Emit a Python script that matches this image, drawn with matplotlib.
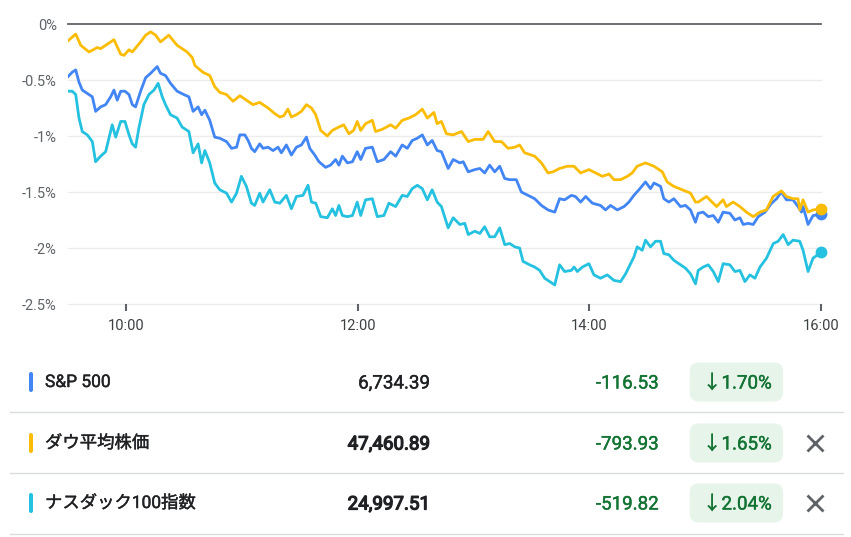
import matplotlib.pyplot as plt
import matplotlib.patheffects as pe
from matplotlib.patches import FancyBboxPatch

plt.rcParams['font.family'] = ['Roboto', 'Noto Sans CJK JP', 'DejaVu Sans']

# minutes after 9:30 and % change
dow_t = [0, 4.0, 6.6, 10.9, 15.2, 16.9, 22.1, 23.8, 27.3, 29.0,
         31.6, 33.3, 37.6, 40.2, 42.8, 45.4, 47.9, 52.2, 56.5, 61.7,
         64.4, 65.7, 69.8, 73.4, 76.0, 78.6, 82.1, 85.5, 89.0, 92.4,
         95.8, 99.3, 103.6, 107.1, 109.7, 111.7, 113.9, 115.7, 118.3, 120.9,
         123.5, 126.1, 128.3, 130.9, 134.3, 136.9, 140.3, 142.8, 145.5, 147.9,
         149.8, 151.6, 154.1, 157.6, 159.3, 162.8, 167.1, 169.7, 173.1, 176.5,
         180.0, 183.5, 186.1, 189.5, 191.2, 193.4, 196.0, 199.5, 203.8, 207.3,
         210.7, 215.0, 217.6, 221.0, 224.5, 227.9, 231.4, 233.9, 236.5, 241.7,
         245.2, 248.6, 251.2, 254.6, 258.6, 262.1, 265.5, 269.8, 273.3, 276.7,
         280.2, 282.8, 286.2, 289.7, 292.2, 294.8, 299.1, 303.5, 307.8, 310.3,
         313.8, 318.1, 322.4, 325.0, 326.4, 330.7, 335.9, 339.3, 341.0, 344.5,
         348.0, 351.4, 354.9, 358.3, 361.7, 365.2, 369.5, 372.1, 375.5, 378.1,
         379.0, 380.7, 383.3, 385.9, 390]
dow_v = [-0.15, -0.09, -0.19, -0.25, -0.21, -0.22, -0.16, -0.14, -0.27, -0.28,
         -0.23, -0.25, -0.16, -0.10, -0.07, -0.10, -0.16, -0.10, -0.19, -0.25,
         -0.30, -0.37, -0.43, -0.46, -0.56, -0.61, -0.63, -0.69, -0.64, -0.68,
         -0.72, -0.70, -0.75, -0.80, -0.83, -0.82, -0.76, -0.83, -0.81, -0.78,
         -0.72, -0.75, -0.81, -0.95, -1.00, -0.95, -0.92, -0.90, -0.98, -0.95,
         -0.87, -0.95, -0.89, -0.86, -0.96, -0.94, -0.90, -0.93, -0.86, -0.84,
         -0.81, -0.76, -0.84, -0.79, -0.89, -0.87, -0.98, -0.99, -0.96, -1.05,
         -1.03, -1.03, -0.96, -1.05, -1.05, -1.11, -1.10, -1.08, -1.15, -1.18,
         -1.24, -1.33, -1.32, -1.29, -1.27, -1.27, -1.33, -1.30, -1.33, -1.36,
         -1.34, -1.39, -1.39, -1.36, -1.33, -1.27, -1.24, -1.27, -1.32, -1.41,
         -1.45, -1.48, -1.51, -1.59, -1.59, -1.54, -1.63, -1.57, -1.63, -1.59,
         -1.63, -1.68, -1.72, -1.68, -1.66, -1.54, -1.49, -1.54, -1.56, -1.56,
         -1.66, -1.57, -1.68, -1.66, -1.65]

spx_t = [0, 2.2, 4.0, 5.7, 7.4, 10.0, 12.6, 14.3, 16.9, 19.5,
         22.1, 23.8, 25.5, 27.3, 29.5, 31.6, 33.3, 35.0, 37.6, 40.2,
         42.8, 46.2, 47.9, 50.5, 53.1, 56.5, 60.0, 62.6, 64.8, 67.4,
         69.2, 70.9, 73.4, 76.0, 78.6, 82.1, 84.7, 87.3, 89.0, 91.6,
         93.3, 95.0, 96.7, 99.3, 101.0, 103.6, 106.2, 108.8, 110.5, 113.1,
         115.7, 118.3, 120.9, 123.5, 125.2, 127.8, 130.0, 133.4, 136.0, 138.6,
         140.3, 142.1, 144.7, 147.3, 149.8, 151.6, 154.1, 157.6, 160.2, 163.6,
         167.1, 169.7, 173.1, 175.7, 178.3, 180.9, 183.5, 186.1, 188.6, 191.2,
         193.4, 196.9, 199.5, 202.9, 204.7, 207.3, 210.7, 213.3, 215.8, 218.4,
         221.0, 223.6, 226.2, 228.8, 232.2, 234.8, 238.3, 241.7, 245.2, 248.6,
         252.1, 254.6, 257.2, 260.7, 262.8, 265.5, 268.1, 271.6, 275.8, 278.4,
         281.0, 284.5, 288.0, 290.5, 293.1, 295.7, 299.1, 301.7, 303.5, 306.9,
         308.6, 311.2, 313.8, 317.2, 319.8, 322.4, 325.0, 326.4, 329.0, 331.6,
         334.2, 336.8, 339.3, 342.8, 345.4, 348.0, 349.7, 352.3, 354.9, 357.5,
         361.0, 364.4, 367.0, 369.5, 372.1, 375.5, 378.1, 379.9, 380.7, 383.3,
         385.9, 390]
spx_v = [-0.47, -0.43, -0.41, -0.52, -0.59, -0.62, -0.65, -0.78, -0.74, -0.72,
         -0.65, -0.59, -0.68, -0.60, -0.60, -0.63, -0.72, -0.74, -0.60, -0.48,
         -0.44, -0.38, -0.44, -0.46, -0.53, -0.60, -0.63, -0.65, -0.78, -0.74,
         -0.81, -0.77, -0.86, -1.01, -1.02, -1.05, -1.11, -1.10, -0.99, -0.99,
         -1.04, -1.11, -1.14, -1.07, -1.11, -1.10, -1.13, -1.10, -1.15, -1.08,
         -1.17, -1.10, -1.08, -1.01, -1.11, -1.17, -1.23, -1.28, -1.26, -1.21,
         -1.26, -1.18, -1.24, -1.23, -1.14, -1.21, -1.11, -1.10, -1.23, -1.21,
         -1.14, -1.18, -1.08, -1.11, -1.04, -1.02, -0.99, -1.08, -1.04, -1.13,
         -1.14, -1.29, -1.21, -1.24, -1.23, -1.32, -1.30, -1.29, -1.33, -1.26,
         -1.32, -1.27, -1.38, -1.39, -1.39, -1.50, -1.53, -1.56, -1.62, -1.66,
         -1.68, -1.56, -1.57, -1.53, -1.54, -1.59, -1.54, -1.60, -1.62, -1.66,
         -1.62, -1.66, -1.63, -1.59, -1.53, -1.48, -1.41, -1.47, -1.42, -1.45,
         -1.56, -1.59, -1.56, -1.63, -1.62, -1.66, -1.77, -1.69, -1.68, -1.72,
         -1.71, -1.77, -1.68, -1.69, -1.75, -1.73, -1.79, -1.78, -1.79, -1.72,
         -1.68, -1.60, -1.56, -1.50, -1.57, -1.57, -1.63, -1.68, -1.63, -1.79,
         -1.71, -1.70]

ndx_t = [0, 2.2, 4.0, 5.7, 7.4, 10.0, 12.6, 14.3, 16.9, 19.5,
         21.2, 22.9, 24.7, 27.3, 29.5, 31.6, 33.3, 35.0, 36.7, 39.3,
         41.9, 44.5, 46.7, 48.8, 50.5, 53.1, 56.5, 59.1, 62.6, 64.8,
         67.4, 69.2, 70.9, 73.4, 76.0, 78.6, 82.1, 84.7, 87.3, 89.8,
         92.4, 95.0, 96.7, 99.3, 101.0, 104.5, 107.1, 109.7, 113.1, 115.7,
         118.3, 121.7, 124.3, 126.1, 128.3, 130.9, 134.3, 136.9, 138.6, 140.3,
         142.1, 144.7, 147.3, 149.8, 151.6, 154.1, 157.6, 160.2, 163.6, 166.2,
         169.7, 173.1, 175.7, 178.3, 180.9, 183.5, 186.1, 188.6, 191.2, 193.4,
         196.9, 199.5, 202.9, 205.5, 207.3, 210.7, 213.3, 215.8, 218.4, 221.0,
         223.6, 226.2, 228.8, 231.4, 233.9, 235.7, 239.1, 241.7, 244.3, 246.9,
         249.5, 252.1, 254.6, 257.2, 260.7, 262.1, 263.8, 266.4, 269.8, 272.4,
         275.8, 279.3, 282.8, 286.2, 288.8, 291.4, 293.1, 294.8, 297.4, 299.1,
         301.7, 304.3, 306.9, 308.6, 311.2, 313.8, 317.2, 319.8, 322.4, 325.0,
         326.4, 329.0, 331.6, 334.2, 336.8, 339.3, 342.8, 345.4, 348.0, 350.6,
         353.2, 355.8, 358.4, 361.8, 365.3, 367.8, 370.4, 373.0, 375.5, 379.0,
         380.7, 383.3, 385.9, 390]
ndx_v = [-0.60, -0.60, -0.63, -0.84, -0.96, -0.99, -1.05, -1.23, -1.18, -1.14,
         -1.02, -0.90, -1.01, -0.87, -0.87, -0.99, -1.07, -1.10, -0.93, -0.72,
         -0.63, -0.59, -0.53, -0.65, -0.72, -0.81, -0.84, -0.92, -0.96, -1.15,
         -1.07, -1.24, -1.13, -1.24, -1.42, -1.48, -1.51, -1.59, -1.51, -1.36,
         -1.45, -1.60, -1.62, -1.51, -1.59, -1.48, -1.59, -1.60, -1.53, -1.65,
         -1.54, -1.53, -1.44, -1.59, -1.60, -1.72, -1.73, -1.65, -1.71, -1.62,
         -1.71, -1.72, -1.71, -1.59, -1.71, -1.57, -1.56, -1.72, -1.71, -1.60,
         -1.63, -1.53, -1.54, -1.47, -1.44, -1.47, -1.57, -1.48, -1.59, -1.63,
         -1.82, -1.73, -1.79, -1.78, -1.88, -1.85, -1.87, -1.81, -1.90, -1.90,
         -1.82, -1.97, -1.96, -1.99, -2.00, -2.12, -2.15, -2.17, -2.20, -2.27,
         -2.30, -2.33, -2.15, -2.21, -2.20, -2.17, -2.21, -2.17, -2.14, -2.24,
         -2.27, -2.24, -2.29, -2.30, -2.23, -2.14, -2.08, -1.99, -2.02, -1.93,
         -1.99, -1.94, -1.94, -2.05, -2.06, -2.11, -2.15, -2.18, -2.23, -2.32,
         -2.20, -2.17, -2.15, -2.21, -2.30, -2.14, -2.15, -2.21, -2.20, -2.30,
         -2.24, -2.27, -2.17, -2.09, -1.96, -1.94, -1.88, -1.97, -1.93, -1.94,
         -2.02, -2.21, -2.09, -2.04]

y_ticks = [0, -0.5, -1, -1.5, -2, -2.5]
y_labels = ["0%", "-0.5%", "-1%", "-1.5%", "-2%", "-2.5%"]
x_ticks = [30, 150, 270, 390]
x_labels = ["10:00", "12:00", "14:00", "16:00"]

names = ["S&P 500", "ダウ平均株価", "ナスダック100指数"]
prices = ["6,734.39", "47,460.89", "24,997.51"]
changes = ["-116.53", "-793.93", "-519.82"]
pcts = ["1.70%", "1.65%", "2.04%"]
closable = [False, True, True]
colors = ["#4285f4", "#fbbc04", "#24c1e0"]


def medium(color, lw=0.3):
    # fake a medium weight by stroking the regular glyphs a little
    return [pe.withStroke(linewidth=lw, foreground=color)]


W, H = 851, 537
fig = plt.figure(figsize=(W / 100, H / 100), dpi=100)

# chart
ax = fig.add_axes([68 / W, 1 - 304 / H, 753 / W, 280 / H])
ax.set_facecolor('none')
ax.set_zorder(2)
for y in y_ticks[1:]:
    ax.axhline(y, color='#ececec', lw=1, zorder=1, clip_on=False)
ax.axhline(0, color='#5f6368', lw=1.3, zorder=1.5, clip_on=False)

series = [(ndx_t, ndx_v, colors[2]), (spx_t, spx_v, colors[0]), (dow_t, dow_v, colors[1])]
for t, v, c in series:
    ax.plot(t, v, color=c, lw=2.0, solid_joinstyle='round', zorder=3)
for t, v, c in series:
    ax.plot(t[-1], v[-1], 'o', color=c, ms=8.5, mec='none', zorder=4, clip_on=False)

ax.set_xlim(0, 390)
ax.set_ylim(-2.5, 0)
ax.set_yticks(y_ticks)
ax.set_yticklabels(y_labels)
ax.set_xticks(x_ticks)
ax.set_xticklabels(x_labels)
for s in ax.spines.values():
    s.set_visible(False)
ax.tick_params(axis='y', length=0, pad=8, labelsize=10.5, labelcolor='#5f6368')
ax.tick_params(axis='x', length=5, width=1.5, color='#5f6368', pad=6,
               labelsize=10.5, labelcolor='#3c4043')

# table below, in pixel coordinates
ov = fig.add_axes([0, 0, 1, 1])
ov.set_xlim(0, W)
ov.set_ylim(H, 0)
ov.axis('off')
ov.set_zorder(1)

for sep in [412, 473, 534]:
    ov.plot([10, 843], [sep, sep], color='#dadce0', lw=1)

fig.canvas.draw()
r = fig.canvas.get_renderer()
rows_y = [382, 443, 503]
for i, yc in enumerate(rows_y):
    ov.add_patch(FancyBboxPatch((29, yc - 10), 4, 20,
                                boxstyle='round,pad=0,rounding_size=2',
                                fc=colors[i], ec='none'))
    ov.text(45, yc + 5, names[i], fontsize=12.5, color='#202124',
            ha='left', va='baseline', path_effects=medium('#202124'))
    ov.text(430, yc + 6.5, prices[i], fontsize=13.5, color='#202124',
            ha='right', va='baseline',
            path_effects=medium('#202124', 0.3 if i == 0 else 0.9))
    bt = ov.text(772, yc + 6.5, '↓' + pcts[i], fontsize=13.5, color='#137333',
                 ha='right', va='baseline', zorder=3,
                 path_effects=medium('#137333'))
    bw = bt.get_window_extent(r).width
    left = 772 - bw - 13
    ov.add_patch(FancyBboxPatch((left, yc - 19.5), 783 - left, 39,
                                boxstyle='round,pad=0,rounding_size=9',
                                fc='#e6f4ea', ec='none', zorder=2))
    ov.text(left - 31, yc + 6.5, changes[i], fontsize=13.5, color='#137333',
            ha='right', va='baseline', path_effects=medium('#137333'))
    if closable[i]:
        ov.plot(814.5, yc, marker='x', ms=11.5, mew=2, color='#5f6368')

fig.savefig('out.png', dpi=100)
